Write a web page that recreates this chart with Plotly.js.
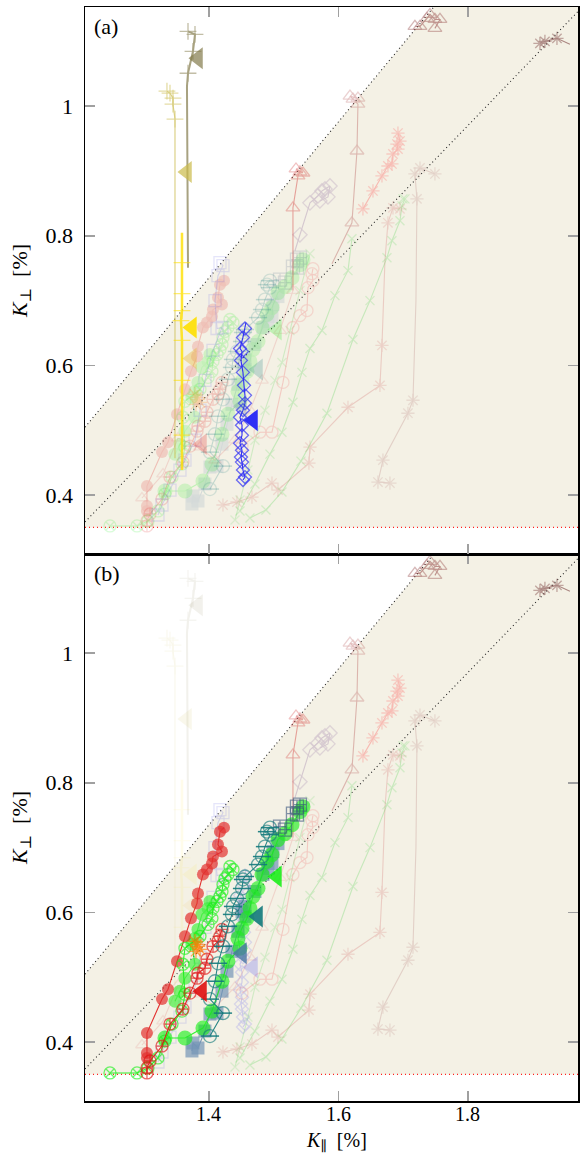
<!DOCTYPE html>
<html><head><meta charset="utf-8">
<script src="https://cdn.plot.ly/plotly-3.0.1.min.js"></script>
<style>html,body{margin:0;padding:0;background:#fff}#chart{width:582px;height:1155px}</style>
</head><body><div id="chart"></div>
<script>
// ---------- axis / reference values ----------
const xRange = [1.2085, 1.97];
const yRange = [0.309, 1.153];
const xTicks = [1.4, 1.6, 1.8];
const xTickText = ['1.4', '1.6', '1.8'];
const yTicks = [0.4, 0.6, 0.8, 1];
const yTickText = ['0.4', '0.6', '0.8', '1'];
const upperLineX = [1.2085, 1.748];
const upperLineY = [0.5046, 1.154];
const lowerLineX = [1.2085, 1.97];
const lowerLineY = [0.3585, 1.146];
const floorY = 0.35;

// ---------- series highlighted in panel (a) ----------
const oliveX = [1.3676, 1.3784, 1.3753, 1.3676, 1.366, 1.3676];
const oliveY = [1.1154, 1.1108, 1.0846, 1.0508, 1.0308, 0.7508];
const khakiX = [1.3351, 1.3398, 1.3444, 1.3444, 1.3475, 1.3475];
const khakiY = [1.0231, 1.02, 1.0123, 1.0031, 0.98, 0.4569];
const yellowX = [1.3583, 1.3583, 1.3583, 1.3583, 1.3568, 1.3583, 1.3583, 1.3583, 1.3583];
const yellowY = [0.8046, 0.7585, 0.7108, 0.6846, 0.6692, 0.6385, 0.5769, 0.4923, 0.4385];
const blueX = [1.4571, 1.4556, 1.4525, 1.4479, 1.451, 1.4494, 1.4525, 1.4541, 1.4556, 1.4556, 1.4525,
               1.4479, 1.451, 1.451, 1.4479, 1.451, 1.4494, 1.451, 1.4525, 1.4556, 1.4525];
const blueY = [0.6662, 0.6569, 0.6431, 0.6262, 0.6215, 0.6077, 0.5892, 0.5692, 0.5538, 0.5415, 0.5308,
               0.52, 0.5077, 0.4923, 0.48, 0.4692, 0.4585, 0.4508, 0.4385, 0.4277, 0.4231];

// ---------- series highlighted in panel (b) ----------
const redX = [1.4232, 1.417, 1.4139, 1.4201, 1.4062, 1.4046, 1.3969, 1.3907, 1.383, 1.3815, 1.3722,
              1.3629, 1.3506, 1.3367, 1.3274, 1.3042, 1.3042, 1.3042];
const redY = [0.7308, 0.7246, 0.7046, 0.6938, 0.6862, 0.6754, 0.6662, 0.6585, 0.6292, 0.6138, 0.5908,
              0.5631, 0.5246, 0.4815, 0.4662, 0.4138, 0.3831, 0.3754];
const redCrossX = [1.4201, 1.417, 1.4139, 1.4062, 1.3969, 1.3938, 1.383, 1.3815, 1.3707, 1.3598, 1.3398,
                   1.3274, 1.3089, 1.3042, 1.3042];
const redCrossY = [0.5738, 0.5631, 0.5554, 0.5477, 0.5277, 0.5138, 0.5062, 0.4985, 0.4754, 0.4508, 0.4277,
                   0.3938, 0.3708, 0.36, 0.3523];
const limeXX = [1.4324, 1.4371, 1.4293, 1.4247, 1.4216, 1.4201, 1.417, 1.4124, 1.4062, 1.4046, 1.3985,
                1.3861, 1.3629, 1.3598, 1.3629, 1.3583, 1.3429, 1.332, 1.3212, 1.3058, 1.2888, 1.2471];
const limeXY = [0.6708, 0.6662, 0.6585, 0.6523, 0.6431, 0.6323, 0.6246, 0.6169, 0.6062, 0.5908, 0.5815,
                0.5631, 0.5446, 0.52, 0.4738, 0.4477, 0.4277, 0.4015, 0.3754, 0.36, 0.3523, 0.3523];
const limeX = [1.5452, 1.5405, 1.5282, 1.5174, 1.5066, 1.4973, 1.4896, 1.4819, 1.4757, 1.468, 1.4633,
               1.4587, 1.451, 1.4448, 1.4479, 1.4293, 1.4201, 1.4046, 1.3907, 1.3629, 1.332];
const limeY = [0.7631, 0.7554, 0.7354, 0.7215, 0.7123, 0.6892, 0.6785, 0.6585, 0.6369, 0.6246, 0.6062,
               0.5908, 0.5754, 0.56, 0.5446, 0.5246, 0.4938, 0.4477, 0.4215, 0.4062, 0.4062];
const lime2X = [1.4015, 1.3985, 1.3892, 1.383, 1.3784, 1.3737, 1.3784, 1.3629, 1.3552, 1.3475];
const lime2Y = [0.6169, 0.6062, 0.5969, 0.5738, 0.56, 0.5508, 0.52, 0.4985, 0.4785, 0.4631];
const tealX = [1.4942, 1.4896, 1.4942, 1.4865, 1.4819, 1.4757, 1.4556, 1.4525, 1.451, 1.4432, 1.4371,
               1.4355, 1.4293, 1.4216, 1.4139, 1.4093, 1.4015, 1.4216, 1.4015];
const tealY = [0.7308, 0.7246, 0.72, 0.7015, 0.6862, 0.6738, 0.6554, 0.6508, 0.6369, 0.6215, 0.6092,
               0.5969, 0.5785, 0.5477, 0.5215, 0.4938, 0.4662, 0.4446, 0.4092];
const steelX = [1.5066, 1.4988, 1.4973, 1.4911, 1.4834, 1.471, 1.4556, 1.451, 1.4556, 1.4448, 1.4355,
                1.4278, 1.4201, 1.4124, 1.4015, 1.3938, 1.383, 1.3753, 1.3737];
const steelY = [0.7062, 0.6938, 0.6754, 0.6677, 0.6585, 0.6323, 0.6092, 0.6015, 0.5938, 0.5708, 0.54,
                0.5092, 0.4785, 0.4446, 0.4431, 0.4169, 0.3908, 0.3985, 0.3862];
const slateX = [1.5359, 1.5405, 1.5297, 1.5359, 1.5174, 1.5097];
const slateY = [0.7631, 0.7662, 0.7523, 0.7508, 0.7277, 0.7323];
const orangeX = [1.3784, 1.3815, 1.383, 1.3861, 1.3799];
const orangeY = [0.5554, 0.5508, 0.5477, 0.5431, 0.54];

// ---------- background series (faded in both panels) ----------
const triTopX = [1.7181, 1.7259, 1.7367, 1.7413, 1.749, 1.7568, 1.749];
const triTopY = [1.1231, 1.1231, 1.1354, 1.1415, 1.1338, 1.1338, 1.12];
const triMidX = [1.59, 1.6208, 1.6286, 1.6301, 1.6224, 1.6178, 1.6301];
const triMidY = [0.7569, 0.82, 0.9308, 1.0031, 1.0108, 1.0154, 1.0123];
const triLowX = [1.5452, 1.5344, 1.5405, 1.5375, 1.5297, 1.5297];
const triLowY = [0.8969, 0.9031, 0.8985, 0.8923, 0.8431, 0.7154];
const triPinkX = [1.5297, 1.5097, 1.4819, 1.4633, 1.4402, 1.4093, 1.3861, 1.3521, 1.329, 1.2965];
const triPinkY = [0.7154, 0.6538, 0.5769, 0.5308, 0.4846, 0.4538, 0.4738, 0.4877, 0.4323, 0.3954];
const mauveX = [1.5328, 1.5405, 1.556, 1.5683, 1.5745, 1.5792, 1.5869, 1.5838, 1.5714];
const mauveY = [0.7769, 0.8015, 0.8508, 0.8615, 0.8692, 0.8723, 0.8769, 0.86, 0.8538];
const astPinkX = [1.6378, 1.6533, 1.6672, 1.6764, 1.6826, 1.6842, 1.6919, 1.6903, 1.695, 1.6919];
const astPinkY = [0.8415, 0.8692, 0.8923, 0.9077, 0.9108, 0.9262, 0.9338, 0.9415, 0.9462, 0.9585];
const astRoseX = [1.695, 1.6842, 1.6764, 1.6718, 1.6672, 1.6641, 1.6147, 1.556, 1.5544, 1.5066, 1.4973,
                  1.4664, 1.4432, 1.4216];
const astRoseY = [0.8415, 0.8431, 0.82, 0.7615, 0.6308, 0.5692, 0.5354, 0.4738, 0.4492, 0.4077, 0.4185,
                  0.3969, 0.3892, 0.3846];
const astTaupeX = [1.749, 1.7259, 1.7181, 1.7212, 1.7197, 1.7151, 1.7073, 1.6687, 1.661, 1.6795];
const astTaupeY = [0.8954, 0.9046, 0.8954, 0.8569, 0.7, 0.5462, 0.5262, 0.4538, 0.42, 0.4185];
const astDarkX = [1.9112, 1.9189, 1.9375, 1.9575];
const astDarkY = [1.0969, 1.1, 1.1046, 1.0954];
const xGreen1X = [1.6996, 1.7027, 1.6981, 1.695, 1.6826, 1.6749, 1.6487, 1.6224, 1.5822, 1.5421, 1.5127, 1.488, 1.4633];
const xGreen1Y = [0.8569, 0.8569, 0.8462, 0.8231, 0.7923, 0.7662, 0.7, 0.64, 0.5262, 0.4523, 0.4046, 0.3769, 0.3646];
const xGreen2X = [1.6208, 1.6147, 1.5946, 1.5745, 1.556, 1.5436, 1.5297, 1.5127, 1.4942, 1.471, 1.4479];
const xGreen2Y = [0.7954, 0.7462, 0.7077, 0.6538, 0.6262, 0.5892, 0.5431, 0.4969, 0.4631, 0.4169, 0.3754];
const xGreen3X = [1.556, 1.5405, 1.5251, 1.5127, 1.5019, 1.4865, 1.471, 1.4602, 1.4479, 1.4402];
const xGreen3Y = [0.7723, 0.7154, 0.6538, 0.6046, 0.5769, 0.5308, 0.4846, 0.4385, 0.3923, 0.3615];
const ringPinkX = [1.5606, 1.5591, 1.5606, 1.5529, 1.5514, 1.5405, 1.5297, 1.5143, 1.4973, 1.4788, 1.451];
const ringPinkY = [0.7492, 0.7415, 0.7308, 0.72, 0.6846, 0.6769, 0.6585, 0.5738, 0.4969, 0.4969, 0.4754];
const sqLavX = [1.417, 1.4216, 1.4139, 1.4093, 1.4124, 1.4201, 1.4062, 1.3938, 1.3861, 1.3784, 1.3629,
                1.3552, 1.3398, 1.3274, 1.3212];
const sqLavY = [0.7585, 0.7538, 0.7385, 0.7, 0.6569, 0.6585, 0.6231, 0.5769, 0.5308, 0.4846, 0.4538,
                0.4385, 0.4077, 0.3846, 0.3692];

// ---------- big arrow-head markers ----------
const arrowX = [1.383, 1.366, 1.3737, 1.3737, 1.468, 1.3892, 1.4757, 1.505, 1.451];
const arrowY = [1.0738, 0.8985, 0.6585, 0.6108, 0.5154, 0.4785, 0.5938, 0.6554, 0.5369];

// ---------- styles ----------
const S = (x, y, color, sym, size, opA, opB, extra) => Object.assign({x, y, color, sym, size, opA, opB}, extra || {});
const series = [
  S(triTopX, triTopY, '#8a3535', 'triangle-up-open', 12, 0.5, 0.5),
  S(triMidX, triMidY, '#b04848', 'triangle-up-open', 12, 0.35, 0.35, {hide: [0]}),
  S(triLowX, triLowY, '#d02828', 'triangle-up-open', 12, 0.4, 0.4, {hide: [5]}),
  S(triPinkX, triPinkY, '#e07070', 'triangle-up-open', 11, 0.22, 0.22),
  S(mauveX, mauveY, '#8f6a9f', 'diamond-open', 11, 0.3, 0.3, {hide: [0]}),
  S(astPinkX, astPinkY, '#ff5555', 'asterisk-open', 11, 0.35, 0.35),
  S(astRoseX, astRoseY, '#d06060', 'asterisk-open', 11, 0.25, 0.25, {hide: [3]}),
  S(astTaupeX, astTaupeY, '#b07070', 'asterisk-open', 11, 0.25, 0.25, {hide: [4]}),
  S(astDarkX, astDarkY, '#703030', 'asterisk-open', 11, 0.55, 0.55, {hide: [3]}),
  S(xGreen1X, xGreen1Y, '#40d040', 'x-thin-open', 9, 0.25, 0.25),
  S(xGreen2X, xGreen2Y, '#40d040', 'x-thin-open', 9, 0.25, 0.25),
  S(xGreen3X, xGreen3Y, '#40d040', 'x-thin-open', 9, 0.2, 0.2),
  S(ringPinkX, ringPinkY, '#f07070', 'circle-open', 12, 0.3, 0.3),
  S(sqLavX, sqLavY, '#6f6fe8', 'square-open', 12, 0.25, 0.25),
  // panel (a) highlights
  S(oliveX, oliveY, '#847c4c', 'cross-thin-open', 12, 0.7, 0.1, {hide: [4, 5], w: 2}),
  S(khakiX, khakiY, '#cbbb4a', 'cross-thin-open', 12, 0.7, 0.1, {hide: [5]}),
  S(yellowX, yellowY, '#ffe000', 'cross-thin-open', 12, 0.8, 0.08, {hide: [0, 8], w: 2.5}),
  S(blueX, blueY, '#2f2ff5', 'diamond-open', 10, 1, 0.2, {hide: [0]}),
  // panel (b) highlights
  S(redX, redY, '#e01010', 'circle', 12, 0.22, 0.85),
  S(redCrossX, redCrossY, '#e01010', 'circle-cross-open', 12, 0.22, 0.9),
  S(limeXX, limeXY, '#10f010', 'circle-x-open', 12, 0.22, 0.85),
  S(lime2X, lime2Y, '#10f010', 'circle', 13, 0.22, 0.75),
  S(limeX, limeY, '#10f010', 'circle', 15, 0.22, 0.85),
  S(steelX, steelY, '#4a76a6', 'square', 13, 0.18, 0.75),
  S(tealX, tealY, '#137a7c', 'circle-open', 13, 0.22, 0.9, {bar: true}),
  S(slateX, slateY, '#34507a', 'square-cross-open', 13, 0.22, 0.85, {mode: 'markers'}),
  S(orangeX, orangeY, '#ff7a00', 'asterisk-open', 12, 0.3, 0.9, {mode: 'markers'})
];
const arrowColors = ['#847c4c', '#cbbb4a', '#ffe000', '#e8b020', '#2f2ff5', '#e01010', '#137a7c', '#10f010', '#4a76a6'];
const arrowOpA = [0.7, 0.7, 0.9, 0.35, 1, 0.22, 0.22, 0.22, 0.22];
const arrowOpB = [0.1, 0.1, 0.08, 0.08, 0.2, 0.9, 0.9, 0.85, 0.8];

// ---------- build traces ----------
const panels = [{xa: 'x2', ya: 'y2', key: 'opA'}, {xa: 'x', ya: 'y', key: 'opB'}];
const dotted = {color: '#222', width: 1.1, dash: '1px,3px'};
const traces = [];
panels.forEach(p => {
  traces.push({x: upperLineX, y: upperLineY, xaxis: p.xa, yaxis: p.ya, mode: 'lines',
    line: dotted, hoverinfo: 'skip', showlegend: false});
  traces.push({x: lowerLineX, y: lowerLineY, xaxis: p.xa, yaxis: p.ya, mode: 'lines',
    line: dotted, hoverinfo: 'skip', showlegend: false});
  traces.push({x: xRange, y: [floorY, floorY], xaxis: p.xa, yaxis: p.ya, mode: 'lines',
    line: {color: '#ff2020', width: 1.2, dash: '1px,3px'}, hoverinfo: 'skip', showlegend: false});
  const list = series.slice().sort((a, b) => a[p.key] - b[p.key]);
  list.forEach(s => {
    const sizes = s.x.map((_, i) => (s.hide && s.hide.includes(i)) ? 0 : s.size);
    const open = s.sym.includes('open');
    traces.push({x: s.x, y: s.y, xaxis: p.xa, yaxis: p.ya, mode: s.mode || 'lines+markers',
      opacity: s[p.key], hoverinfo: 'skip', showlegend: false,
      line: {color: s.color, width: s.w || 1.1},
      marker: {symbol: s.sym, size: sizes, color: s.color,
        line: {color: s.color, width: open ? 1.3 : 0}}});
    if (s.bar) {
      traces.push({x: s.x, y: s.y, xaxis: p.xa, yaxis: p.ya, mode: 'markers',
        opacity: s[p.key], hoverinfo: 'skip', showlegend: false,
        marker: {symbol: 'line-ew-open', size: s.size, color: s.color, line: {color: s.color, width: 1.5}}});
    }
  });
  arrowX.forEach((ax, i) => {
    traces.push({x: [ax], y: [arrowY[i]], xaxis: p.xa, yaxis: p.ya, mode: 'markers',
      opacity: p.key === 'opA' ? arrowOpA[i] : arrowOpB[i], hoverinfo: 'skip', showlegend: false,
      marker: {symbol: 'triangle-left', size: 19, color: arrowColors[i], line: {width: 0}}});
  });
});

// ---------- beige admissible region ----------
const regionPath = () =>
  `M ${xRange[0]},${floorY} L ${upperLineX[0]},${upperLineY[0]} L ${upperLineX[1]},${upperLineY[1]} ` +
  `L ${xRange[1]},${upperLineY[1]} L ${xRange[1]},${floorY} Z`;
const shapes = [
  {type: 'path', xref: 'x2', yref: 'y2', path: regionPath(), fillcolor: '#f4f1e5', line: {width: 0}, layer: 'below'},
  {type: 'path', xref: 'x', yref: 'y', path: regionPath(), fillcolor: '#f4f1e5', line: {width: 0}, layer: 'below'}
];

const FONT = 'Liberation Serif, DejaVu Serif, serif';
const axisCommon = {
  ticks: 'inside', ticklen: 10, tickwidth: 1.6, tickcolor: '#a0a0a0',
  showline: true, linecolor: '#000', linewidth: 1.5, mirror: 'allticks',
  showgrid: false, zeroline: false, tickfont: {family: FONT, size: 22, color: '#000'}
};
const ytitle = {text: '<i>K</i><sub>⊥</sub>&nbsp; [%]', font: {family: FONT, size: 22, color: '#000'}, standoff: 12};

// x tick labels placed tight under the frame, as in the reference
const xLabelAnnots = xTicks.map((v, i) => ({
  text: xTickText[i], xref: 'x', yref: 'paper', x: v, y: -0.0115, xanchor: 'center', yanchor: 'middle',
  showarrow: false, borderpad: 0, font: {family: FONT, size: 20, color: '#000'}
}));

const layout = {
  width: 582, height: 1155,
  margin: {l: 85, r: 4, t: 7, b: 54},
  paper_bgcolor: '#fff', plot_bgcolor: '#fff',
  showlegend: false,
  xaxis: Object.assign({}, axisCommon, {domain: [0, 1], anchor: 'y', range: xRange, tickvals: xTicks,
    showticklabels: false}),
  xaxis2: Object.assign({}, axisCommon, {domain: [0, 1], anchor: 'y2', range: xRange, tickvals: xTicks,
    showticklabels: false, matches: 'x'}),
  yaxis: Object.assign({}, axisCommon, {domain: [0, 0.5], anchor: 'x', range: yRange, tickvals: yTicks,
    ticktext: yTickText, ticklabelstandoff: 6, title: ytitle}),
  yaxis2: Object.assign({}, axisCommon, {domain: [0.5, 1], anchor: 'x2', range: yRange, tickvals: yTicks,
    ticktext: yTickText, ticklabelstandoff: 6, title: ytitle}),
  shapes: shapes,
  annotations: [
    {text: '(a)', xref: 'x2 domain', yref: 'y2 domain', x: 0.015, y: 0.99, xanchor: 'left', yanchor: 'top',
     showarrow: false, font: {family: FONT, size: 22, color: '#000'}},
    {text: '(b)', xref: 'x domain', yref: 'y domain', x: 0.015, y: 0.99, xanchor: 'left', yanchor: 'top',
     showarrow: false, font: {family: FONT, size: 22, color: '#000'}},
    {text: '<i>K</i><sub>∥</sub>&nbsp; [%]', xref: 'x domain', yref: 'paper', x: 0.51, y: -0.0494,
     xanchor: 'center', yanchor: 'bottom', showarrow: false, borderpad: 0, font: {family: FONT, size: 20, color: '#000'}}
  ].concat(xLabelAnnots)
};
Plotly.newPlot('chart', traces, layout, {staticPlot: true, displayModeBar: false});
</script></body></html>
